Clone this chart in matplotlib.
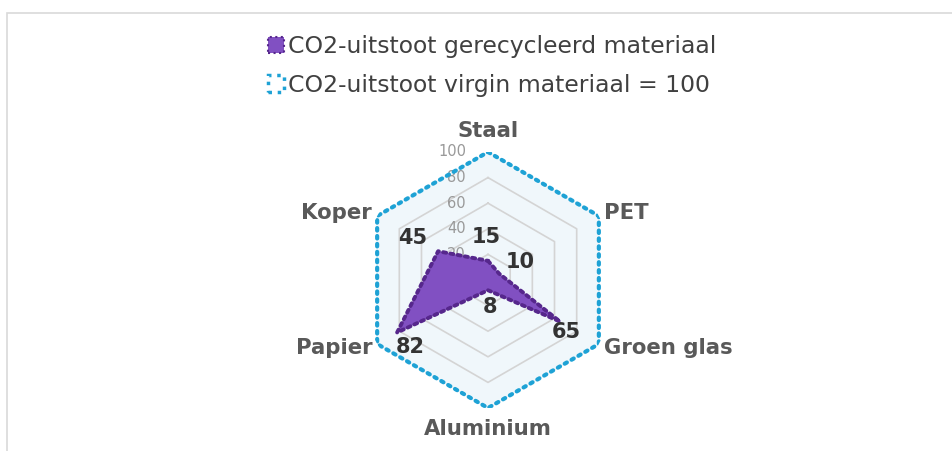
import numpy as np
import matplotlib
matplotlib.use("Agg")
import matplotlib.pyplot as plt
from matplotlib.patches import Patch, Rectangle

# ---- data ----
categories = ["Staal", "PET", "Groen glas", "Aluminium", "Papier", "Koper"]
recycled = [15, 10, 65, 8, 82, 45]
virgin = [100, 100, 100, 100, 100, 100]
radial_ticks = [0, 20, 40, 60, 80, 100]
series_names = ["CO2-uitstoot gerecycleerd materiaal", "CO2-uitstoot virgin materiaal = 100"]

# ---- styles ----
purple_fill = "#8150C2"
purple_edge = "#56278C"
blue = "#1EA2D5"
grid_col = "#D4D4D4"
cat_col = "#595959"
val_col = "#333333"
tick_col = "#999999"

# label offsets in pixels (style only)
value_offsets = [(-2, 24), (21, 12), (6, -10), (2, -17), (13, -15), (-25, 13)]
cat_offsets = [(0, 21, "center"), (5, 3, "left"), (5, -4, "left"),
               (0, -21, "center"), (-5, -4, "right"), (-5, 3, "right")]

W, H = 953, 451
fig = plt.figure(figsize=(W / 100, H / 100), dpi=100)
fig.patch.set_facecolor("white")

# outer frame
fig.add_artist(Rectangle((7.5 / W, -0.1), 1.2, (H - 13) / H + 0.1, transform=fig.transFigure,
                         fill=False, edgecolor="#D9D9D9", linewidth=1.2))

cx, cy, R = 488, 280, 128
ax = fig.add_axes([(cx - R) / W, (H - cy - R) / H, 2 * R / W, 2 * R / H], projection="polar")
ax.set_theta_offset(np.pi / 2)
ax.set_theta_direction(-1)
ax.set_ylim(0, 100)
ax.set_axis_off()

n = len(categories)
theta = np.arange(n) * 2 * np.pi / n
theta_c = np.append(theta, theta[0])

def closed(v):
    return np.append(np.asarray(v, float), v[0])

# virgin area (light fill)
ax.fill(theta_c, closed(virgin), color="#F0F7FB", zorder=1)

# grid hexagons
for t in radial_ticks[1:-1]:
    ax.plot(theta_c, [t] * (n + 1), color=grid_col, lw=1.2, zorder=2)

# recycled series
ax.fill(theta_c, closed(recycled), facecolor=purple_fill, edgecolor="none", zorder=3)
ax.plot(theta_c, closed(recycled), color=purple_edge, lw=2.8, ls=(0, (0.8, 1.1)),
        dash_capstyle="round", zorder=4)

# virgin border
ax.plot(theta_c, closed(virgin), color=blue, lw=3.0, ls=(0, (0.6, 1.3)),
        dash_capstyle="round", zorder=5)

# radial tick labels
for t in radial_ticks:
    ax.annotate(str(t), xy=(0, t), xytext=(-22, 0), textcoords="offset pixels",
                ha="right", va="center", fontsize=10.5, color=tick_col, zorder=2.5,
                annotation_clip=False)

# value labels
for th, v, (dx, dy) in zip(theta, recycled, value_offsets):
    ax.annotate(str(v), xy=(th, v), xytext=(dx, dy), textcoords="offset pixels",
                ha="center", va="center", fontsize=15, fontweight="bold", color=val_col,
                zorder=6, annotation_clip=False)

# category labels
for th, c, (dx, dy, ha) in zip(theta, categories, cat_offsets):
    ax.annotate(c, xy=(th, 100), xytext=(dx, dy), textcoords="offset pixels",
                ha=ha, va="center", fontsize=15.3, fontweight="bold", color=cat_col,
                zorder=6, annotation_clip=False)

# legend
handles = [Patch(facecolor=purple_fill, edgecolor=purple_edge, linestyle=":", linewidth=1.5),
           Patch(facecolor="white", edgecolor=blue, linestyle=":", linewidth=2.5)]
leg = fig.legend(handles, series_names, loc="center", bbox_to_anchor=(492 / W, 1 - 66 / H),
                 frameon=False, fontsize=16.9, handlelength=0.7, handleheight=0.7,
                 handletextpad=0.15, labelspacing=0.66, borderaxespad=0)
for t in leg.get_texts():
    t.set_color("#404040")

fig.savefig("out.png", dpi=100, facecolor="white")
